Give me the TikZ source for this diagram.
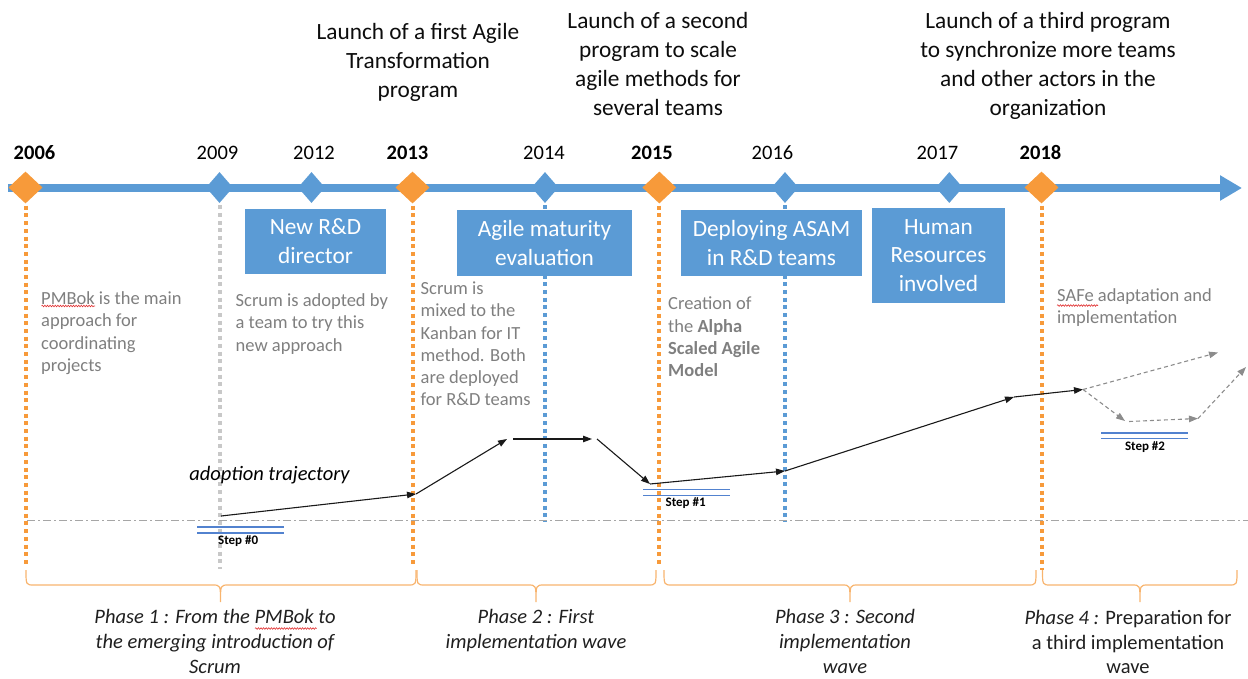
\documentclass[tikz,border=0pt]{standalone}
\usepackage{fontspec}
\setmainfont{Carlito}
\usetikzlibrary{shapes.geometric,arrows.meta,decorations.pathmorphing}

\definecolor{tlblue}{HTML}{5B9BD5}
\definecolor{tlorange}{HTML}{F79A3A}
\definecolor{bracecol}{HTML}{F8B46E}
\definecolor{notegray}{HTML}{7F7F7F}
\definecolor{dotgray}{HTML}{C8C8C8}
\definecolor{stepblue}{HTML}{5282CF}
\definecolor{dashgray}{HTML}{A6A6A6}
\definecolor{futuregray}{HTML}{8C8C8C}
\definecolor{spellred}{HTML}{E03030}

% curly brace under a phase: left end, tip, right end
\newcommand\phasebrace[3]{%
  \draw[bracestyle] (#1,570) .. controls (#1,585) .. (#1+8,585) -- (#2-8,585)
    .. controls (#2,585) .. (#2,602) .. controls (#2,585) .. (#2+8,585)
    -- (#3-8,585) .. controls (#3,585) .. (#3,570);}

\begin{document}
\begin{tikzpicture}[x=1pt,y=-1pt,
  keydia/.style={diamond, fill=tlorange, draw=none, minimum width=34pt, minimum height=32pt, inner sep=0pt},
  minordia/.style={diamond, fill=tlblue, draw=none, minimum width=27pt, minimum height=31pt, inner sep=0pt},
  yearlbl/.style={anchor=base, inner sep=0pt, font=\fontsize{20.5}{24}\selectfont},
  keyyear/.style={yearlbl, font=\fontsize{20.5}{24}\selectfont\bfseries},
  eventbox/.style={rectangle, fill=tlblue, draw=none, text=white, align=center, inner sep=0pt,
    font=\fontsize{23.3}{28.8}\selectfont},
  heading/.style={anchor=north, align=center, inner sep=0pt, text=black!95,
    font=\fontsize{23.3}{29}\selectfont},
  note/.style={anchor=north west, align=left, inner sep=0pt, text=notegray,
    font=\fontsize{18.5}{22.3}\selectfont},
  phase/.style={anchor=north, align=center, inner sep=0pt, text=black!88,
    font=\fontsize{20.5}{24.6}\selectfont\itshape},
  orangedots/.style={draw=tlorange, line width=4pt, dash pattern=on 4pt off 3.7pt},
  bluedots/.style={draw=tlblue, line width=4pt, dash pattern=on 4pt off 3.7pt},
  graydots/.style={draw=dotgray, line width=4pt, dash pattern=on 4pt off 3.7pt},
  baseline/.style={draw=dashgray, line width=1pt, dash pattern=on 8pt off 3pt on 2pt off 3pt},
  traj/.style={draw=black!90, line width=1.1pt, -{Triangle[length=9pt,width=6.5pt]}},
  future/.style={draw=futuregray, line width=1.1pt, dash pattern=on 4pt off 3pt,
    -{Triangle[length=9pt,width=6.5pt]}},
  stepline/.style={draw=stepblue, line width=1.1pt},
  steplbl/.style={anchor=base west, inner sep=0pt, font=\fontsize{13}{15}\selectfont\bfseries},
  bracestyle/.style={draw=bracecol, line width=1.2pt},
  spell/.style={draw=spellred, line width=0.6pt, decorate,
    decoration={snake, amplitude=0.8pt, segment length=2.6pt}}
]
\useasboundingbox (0,0) rectangle (1248,678);

% ---- headings ----
\node[heading] (h1) at (418,23) {Launch of a first Agile\\Transformation\\program};
\node[heading] (h2) at (658,12.5) {Launch of a second\\program to scale\\agile methods for\\several teams};
\node[heading] (h3) at (1048,12.5) {Launch of a third program\\to synchronize more teams\\and other actors in the\\organization};

% ---- year labels ----
\node[keyyear]  (y2006) at (34.5,159.3) {2006};
\node[yearlbl]  (y2009) at (217.5,159.3) {2009};
\node[yearlbl]  (y2012) at (314,159.3) {2012};
\node[keyyear]  (y2013) at (407.5,159.3) {2013};
\node[yearlbl]  (y2014) at (544,159.3) {2014};
\node[keyyear]  (y2015) at (652,159.3) {2015};
\node[yearlbl]  (y2016) at (772.5,159.3) {2016};
\node[yearlbl]  (y2017) at (937.5,159.3) {2017};
\node[keyyear]  (y2018) at (1040.5,159.3) {2018};

% ---- time axis ----
\coordinate (axisstart) at (8,188);
\coordinate (axisend) at (1242,188);
\draw[draw=tlblue, line width=8.5pt, -{Triangle[length=22pt,width=24pt]}] (axisstart) -- (axisend);

% ---- milestones ----
\node[keydia]   (d2006) at (25.5,187.5) {};
\node[minordia] (d2009) at (219.5,187.5) {};
\node[minordia] (d2012) at (311.5,187.5) {};
\node[keydia]   (d2013) at (412.5,187.5) {};
\node[minordia] (d2014) at (545,187.5) {};
\node[keydia]   (d2015) at (659.3,187.5) {};
\node[minordia] (d2016) at (785,187.5) {};
\node[minordia] (d2017) at (949.3,187.5) {};
\node[keydia]   (d2018) at (1041.5,187.5) {};

% ---- reference level ----
\coordinate (lvlL) at (27,520);
\coordinate (lvlR) at (1248,520);
\draw[baseline] (lvlL) -- (lvlR);

% ---- vertical guides ----
\coordinate (e2006) at (25.5,564);
\coordinate (e2009) at (219.5,569);
\coordinate (e2013) at (412.5,566);
\coordinate (e2014) at (545,522);
\coordinate (e2015) at (659.3,566);
\coordinate (e2016) at (785,522);
\coordinate (e2018) at (1041.5,570);
\draw[orangedots] ([yshift=-2pt]d2006.south) -- (e2006);
\draw[graydots]   ([yshift=-2pt]d2009.south) -- (e2009);
\draw[orangedots] ([yshift=-2pt]d2013.south) -- (e2013);
\draw[bluedots]   ([yshift=-2pt]d2014.south) -- (e2014);
\draw[orangedots] ([yshift=-2pt]d2015.south) -- (e2015);
\draw[bluedots]   ([yshift=-2pt]d2016.south) -- (e2016);
\draw[orangedots] ([yshift=-2pt]d2018.south) -- (e2018);

% ---- event boxes ----
\node[eventbox, minimum width=141pt, minimum height=65pt] (b1) at (315.5,241.5) {New R\&D\\director};
\node[eventbox, minimum width=175pt, minimum height=66pt] (b2) at (544.5,243) {Agile maturity\\evaluation};
\node[eventbox, minimum width=181pt, minimum height=66pt] (b3) at (771.5,243) {Deploying ASAM\\in R\&D teams};
\node[eventbox, minimum width=133pt, minimum height=95pt] (b4) at (938.5,255.5) {Human\\Resources\\involved};

% ---- notes ----
\node[note] (n1) at (41,291.5) {PMBok is the main\\approach for\\coordinating\\projects};
\node[note] (n2) at (235.5,293.5) {Scrum is adopted by\\a team to try this\\new approach};
\node[note] (n3) at (420.5,281.5) {Scrum is\\mixed to the\\Kanban for IT\\method. Both\\are deployed\\for R\&D teams};
\node[note] (n4) at (668,297) {Creation of\\the \textbf{Alpha}\\\textbf{Scaled Agile}\\\textbf{Model}};
\node[note] (n5) at (1057,288.5) {SAFe adaptation and\\implementation};

% ---- adoption trajectory ----
\node[inner sep=0pt, font=\fontsize{20.5}{25}\selectfont\itshape] (traj) at (269.5,475) {adoption trajectory};
\coordinate (p0) at (221,516);
\coordinate (p1) at (416,494);
\coordinate (p2) at (507,439);
\coordinate (p3) at (513,439);
\coordinate (p4) at (592,439);
\coordinate (p5) at (597,439);
\coordinate (p6) at (650,484);
\coordinate (p7) at (785,471);
\coordinate (p8) at (1014,397);
\coordinate (p9) at (1083,389.5);
\draw[traj] (p0) -- (p1);
\draw[traj] (p1) -- (p2);
\draw[traj] (p3) -- (p4);
\draw[traj] (p5) -- (p6);
\draw[traj] (p6) -- (p7);
\draw[traj] (p7) -- (p8);
\draw[traj] (p8) -- (p9);

% possible continuations
\coordinate (q1) at (1218,352.5);
\coordinate (q2) at (1125,421);
\coordinate (q2b) at (1129,421.5);
\coordinate (q3) at (1198,418.5);
\coordinate (q4) at (1246,367);
\draw[future] (p9) -- (q1);
\draw[future] (p9) -- (q2);
\draw[future] (q2b) -- (q3);
\draw[future] (q3) -- (q4);

% ---- steps ----
\coordinate (s0a) at (197,527); \coordinate (s0b) at (284,527);
\coordinate (s0c) at (197,533); \coordinate (s0d) at (284,533);
\draw[stepline] (s0a) -- (s0b);
\draw[stepline] (s0c) -- (s0d);
\node[steplbl] (step0) at (218,544.5) {Step \#0};

\coordinate (s1a) at (643,489.5); \coordinate (s1b) at (730,489.5);
\coordinate (s1c) at (643,495.5); \coordinate (s1d) at (730,495.5);
\draw[stepline] (s1a) -- (s1b);
\draw[stepline] (s1c) -- (s1d);
\node[steplbl] (step1) at (665.5,506.5) {Step \#1};

\coordinate (s2a) at (1101,433); \coordinate (s2b) at (1188,433);
\coordinate (s2c) at (1101,438.5); \coordinate (s2d) at (1188,438.5);
\draw[stepline] (s2a) -- (s2b);
\draw[stepline] (s2c) -- (s2d);
\node[steplbl, anchor=base] (step2) at (1145,450.5) {Step \#2};

% ---- phase braces ----
\phasebrace{26}{220.5}{416}
\phasebrace{417}{536}{656}
\phasebrace{664}{850}{1036}
\phasebrace{1042.5}{1140}{1237}

% ---- phase captions ----
\node[phase] (ph1) at (215,609.5) {Phase 1 : From the PMBok to\\the emerging introduction of\\Scrum};
\node[phase] (ph2) at (536,609.5) {Phase 2 : First\\implementation wave};
\node[phase] (ph3) at (845,609.5) {Phase 3 : Second\\implementation\\wave};
\node[phase, font=\fontsize{20.5}{24.6}\selectfont] (ph4) at (1128,610) {\textit{Phase 4 :} Preparation for\\a third implementation\\wave};

% ---- spell-check marks ----
\draw[spell] (41.5,306) -- (95,306);
\draw[spell] (1057,305.5) -- (1098,305.5);
\draw[spell] (255,628.5) -- (316.5,628.5);
\end{tikzpicture}
\end{document}
